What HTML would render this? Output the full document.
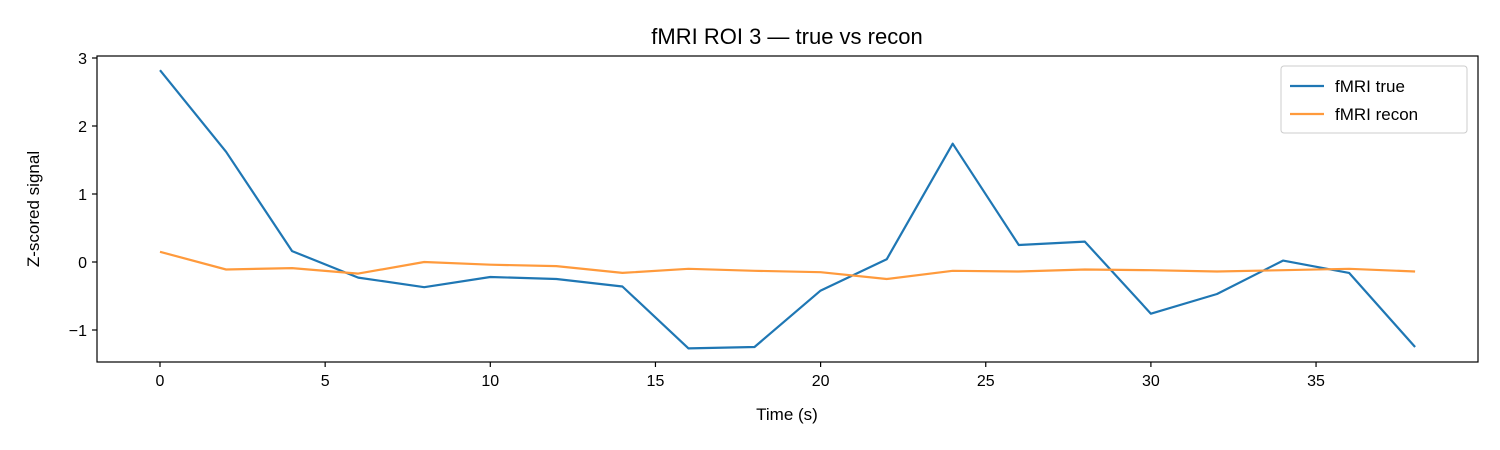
<!DOCTYPE html>
<html><head><meta charset="utf-8">
<style>
html,body{margin:0;padding:0;background:#fff;}
svg{display:block;font-family:"Liberation Sans","DejaVu Sans",sans-serif;}
</style></head>
<body>
<svg id="chart" width="1500" height="450" viewBox="0 0 1500 450">
<rect x="0" y="0" width="1500" height="450" fill="#fff"/>
<text x="787" y="44" font-size="22" text-anchor="middle" fill="#000">fMRI ROI 3 — true vs recon</text>
<g id="plot"></g>
<rect x="97" y="56" width="1381" height="306" fill="none" stroke="#000" stroke-width="1.2"/>
<text x="787" y="420" font-size="17" text-anchor="middle">Time (s)</text>
<text x="0" y="0" font-size="17" text-anchor="middle" transform="translate(39,209) rotate(-90)">Z-scored signal</text>
<g>
<rect x="1281" y="66" width="186" height="67" rx="3" fill="#fff" fill-opacity="0.8" stroke="#ccc"/>
<line x1="1290" y1="86" x2="1324" y2="86" stroke="#1f77b4" stroke-width="2.2"/>
<text x="1335" y="92" font-size="17">fMRI true</text>
<line x1="1290" y1="114" x2="1324" y2="114" stroke="#ff9a3c" stroke-width="2.2"/>
<text x="1335" y="120" font-size="17">fMRI recon</text>
</g>
</svg>
<script>
const times = [0,2,4,6,8,10,12,14,16,18,20,22,24,26,28,30,32,34,36,38];
const trueVals = [2.82,1.62,0.16,-0.23,-0.37,-0.22,-0.25,-0.36,-1.27,-1.25,-0.42,0.04,1.74,0.25,0.30,-0.76,-0.47,0.02,-0.16,-1.25];
const reconVals = [0.15,-0.11,-0.09,-0.17,0.0,-0.04,-0.06,-0.16,-0.10,-0.13,-0.15,-0.25,-0.13,-0.14,-0.11,-0.12,-0.14,-0.12,-0.10,-0.14];
const xTicks = [0,5,10,15,20,25,30,35];
const yTicks = [-1,0,1,2,3];
const yTickLabels = ["\u22121","0","1","2","3"];

const NS = "http://www.w3.org/2000/svg";
function xs(v){ return 160 + v * 33.03; }
function ys(v){ return 262 - v * 68; }
const g = document.getElementById('plot');
function mk(tag, attrs){ const e=document.createElementNS(NS,tag); for(const k in attrs) e.setAttribute(k,attrs[k]); g.appendChild(e); return e; }

xTicks.forEach(t=>{
  const l = mk('line',{x1:xs(t),x2:xs(t),y1:362,y2:367,stroke:'#000','stroke-width':1.2});
  
  
  const tx = mk('text',{x:xs(t),y:386,'font-size':16,'text-anchor':'middle'});
  tx.textContent = t;
  
  
});
yTicks.forEach((t,i)=>{
  const l = mk('line',{x1:92,x2:97,y1:ys(t),y2:ys(t),stroke:'#000','stroke-width':1.2});
  
  
  const tx = mk('text',{x:87,y:ys(t)+6,'font-size':16,'text-anchor':'end'});
  tx.textContent = yTickLabels[i];
  
  
});
function line(vals,color,name){
  const d = vals.map((v,i)=>(i?'L':'M')+xs(times[i]).toFixed(1)+','+ys(v).toFixed(1)).join(' ');
  const p = mk('path',{d:d,fill:'none',stroke:color,'stroke-width':2.2,'stroke-linejoin':'round'});
  
  
}
line(trueVals,'#1f77b4','series-true');
line(reconVals,'#ff9a3c','series-recon');
</script>
</body></html>
